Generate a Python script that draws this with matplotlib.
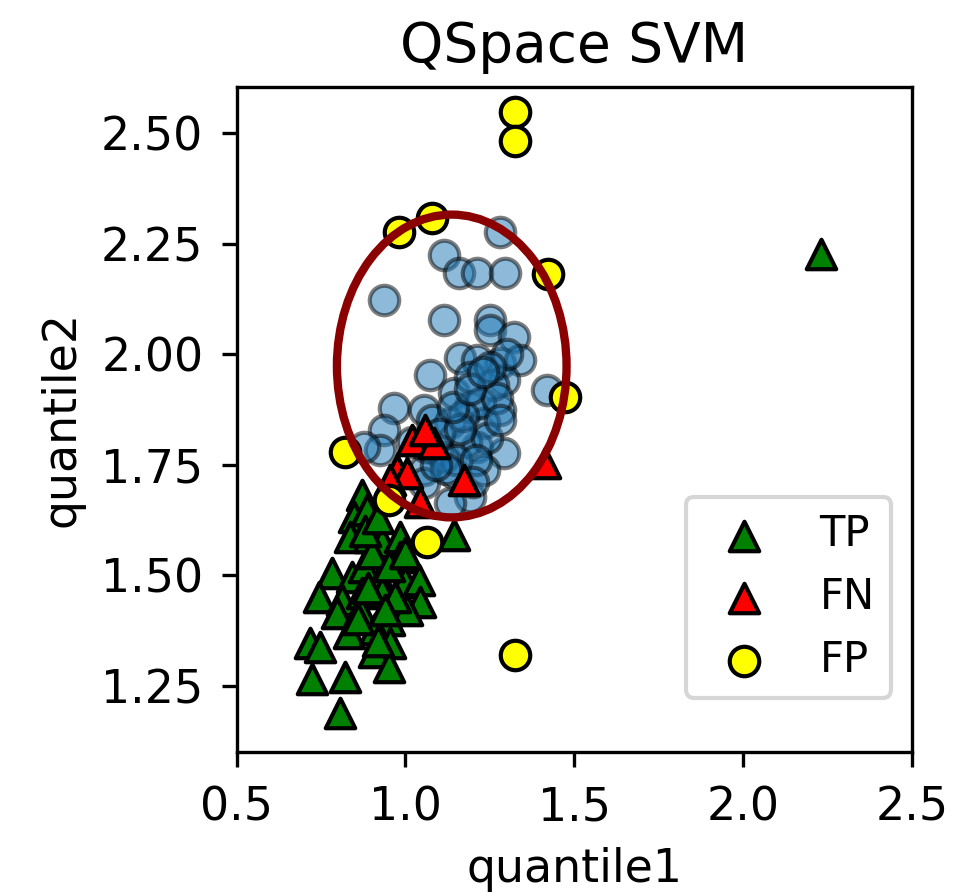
import numpy as np
import matplotlib
matplotlib.use("Agg")
import matplotlib.pyplot as plt
from matplotlib.patches import Ellipse

# negatives (unlabelled, blue)
tn_x = [1.279, 1.113, 1.158, 1.211, 1.294, 0.936, 1.113, 1.250, 1.250, 1.321,
        1.279, 1.339, 1.161, 1.211, 1.072, 1.143, 1.190, 1.291, 1.419, 0.965,
        1.054, 1.190, 1.279, 1.232, 1.131, 0.936, 0.924, 0.876, 1.093, 1.211,
        1.291, 1.054, 1.143, 1.232, 1.190, 1.131, 1.054, 1.113, 1.02, 1.18,
        1.26, 1.22, 1.30, 1.08, 1.15, 1.10, 1.17, 1.24, 1.21, 1.12, 1.27,
        1.16, 1.06, 1.20, 1.25, 1.14, 1.09, 1.19, 1.28, 1.23]
tn_y = [2.276, 2.224, 2.183, 2.183, 2.183, 2.122, 2.077, 2.077, 2.055, 2.039,
        1.980, 1.987, 1.991, 1.987, 1.953, 1.912, 1.948, 1.942, 1.919, 1.878,
        1.874, 1.881, 1.874, 1.844, 1.844, 1.829, 1.783, 1.790, 1.783, 1.790,
        1.777, 1.738, 1.731, 1.738, 1.677, 1.664, 1.709, 1.768, 1.80, 1.80,
        1.93, 1.89, 2.00, 1.85, 1.76, 1.82, 1.86, 1.81, 1.76, 1.74, 1.90,
        1.83, 1.79, 1.71, 1.97, 1.88, 1.75, 1.92, 1.85, 1.96]

# true positives
tp_x = [0.870, 0.847, 0.885, 0.835, 0.891, 0.930, 0.983, 1.143, 0.983, 0.781,
        0.841, 0.876, 0.924, 0.998, 1.039, 0.743, 0.811, 0.870, 0.930, 1.042,
        1.004, 0.796, 0.864, 0.950, 0.832, 0.909, 0.953, 0.716, 0.746, 0.906,
        0.950, 0.722, 0.820, 0.805, 0.90, 0.95, 0.88, 0.92, 0.97, 0.86,
        0.92, 1.00, 0.89, 0.94, 2.23]
tp_y = [1.682, 1.632, 1.648, 1.587, 1.587, 1.575, 1.587, 1.591, 1.542, 1.505,
        1.496, 1.519, 1.490, 1.485, 1.490, 1.451, 1.444, 1.460, 1.462, 1.440,
        1.422, 1.415, 1.422, 1.399, 1.370, 1.377, 1.347, 1.347, 1.338, 1.325,
        1.293, 1.264, 1.270, 1.189, 1.55, 1.52, 1.60, 1.63, 1.45, 1.40,
        1.35, 1.55, 1.47, 1.42, 2.226]

# false negatives
fn_x = [1.019, 1.084, 1.057, 0.974, 1.004, 0.953, 1.042, 1.173, 1.413]
fn_y = [1.806, 1.799, 1.829, 1.738, 1.731, 1.716, 1.666, 1.716, 1.754]

# false positives
fp_x = [1.324, 1.324, 0.980, 1.078, 1.421, 1.472, 0.820, 0.950, 1.063, 1.324]
fp_y = [2.547, 2.482, 2.276, 2.308, 2.181, 1.903, 1.779, 1.670, 1.575, 1.320]

ell_center = (1.137, 1.973)
ell_w, ell_h = 0.68, 0.685

plt.rcParams['font.size'] = 11
fig = plt.figure(figsize=(9.58 / 3, 8.93 / 3), dpi=300)
ax = fig.add_axes([0.247, 0.158, 0.705, 0.745])

ax.scatter(tn_x, tn_y, s=50, c='C0', alpha=0.5, edgecolors='k', linewidths=1)
ax.scatter(tp_x, tp_y, s=50, marker='^', c='green', edgecolors='k', linewidths=1, label='TP')
ax.scatter(fn_x, fn_y, s=50, marker='^', c='red', edgecolors='k', linewidths=1, label='FN')
ax.scatter(fp_x, fp_y, s=50, marker='o', c='yellow', edgecolors='k', linewidths=1, label='FP')

ell = Ellipse(ell_center, ell_w, ell_h, fill=False, edgecolor='darkred', linewidth=2)
ax.add_patch(ell)

ax.set_xlim(0.5, 2.5)
ax.set_ylim(1.10, 2.605)
ax.set_xticks([0.5, 1.0, 1.5, 2.0, 2.5])
ax.set_yticks([1.25, 1.50, 1.75, 2.00, 2.25, 2.50])
ax.tick_params(pad=4.5)
ax.set_xlabel('quantile1')
ax.set_ylabel('quantile2')
ax.set_title('QSpace SVM')
ax.legend(loc='lower right', bbox_to_anchor=(1.0, 0.05), fontsize=10)

fig.savefig('out.png', dpi=300)
